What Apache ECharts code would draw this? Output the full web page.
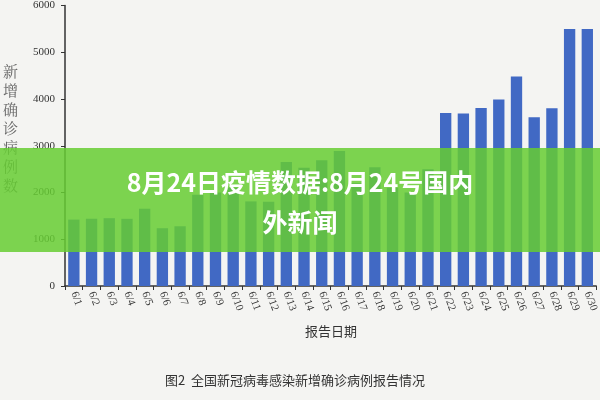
<!DOCTYPE html>
<html><head><meta charset="utf-8">
<script src="https://cdn.jsdelivr.net/npm/echarts@6/dist/echarts.min.js"></script>
<style>body{margin:0;background:#f4f4f2}#c{width:600px;height:400px}</style></head>
<body><div id="c"></div>
<script>
const categories=["6/1","6/2","6/3","6/4","6/5","6/6","6/7","6/8","6/9","6/10","6/11","6/12","6/13","6/14","6/15","6/16","6/17","6/18","6/19","6/20","6/21","6/22","6/23","6/24","6/25","6/26","6/27","6/28","6/29","6/30"];
const values=[1420,1437,1451,1437,1653,1236,1278,1950,2000,2100,1810,1800,2650,2530,2690,2890,2200,2540,2100,2000,2500,3700,3690,3810,3990,4480,3610,3800,5500,5500];
const yTicks=[0,1000,2000,3000,4000,5000,6000];
const ch=echarts.init(document.getElementById('c'));
ch.setOption({
 backgroundColor:'#f4f4f2',
 grid:{left:65,right:-8,top:-4,bottom:114},
 xAxis:{type:'category',data:categories,axisLine:{lineStyle:{color:'#333',width:1.5}},axisTick:{show:true,length:4,lineStyle:{color:'#333'}},
  axisLabel:{rotate:-70,color:'#333',fontFamily:'Liberation Serif',fontSize:11,interval:0,margin:6}},
 yAxis:{type:'value',min:0,max:6000,interval:1000,splitLine:{show:false},axisLine:{show:true,lineStyle:{color:'#333',width:1.5}},axisTick:{show:true,length:4},
  axisLabel:{color:'#333',fontFamily:'Liberation Serif',fontSize:11,margin:10,formatter:v=>String(v)}},
 series:[{type:'bar',data:values,barCategoryGap:'36%',itemStyle:{color:'#4169c4'}}],
 graphic:[
  {type:'text',left:3,top:62,style:{text:'新\n增\n确\n诊\n病\n例\n数',fill:'#666',font:'15px "Noto Serif CJK SC","Noto Sans CJK SC"',lineHeight:19}},
  {type:'text',left:305,top:325,style:{text:'报告日期',fill:'#333',font:'13px "Noto Sans CJK SC"'}},
  {type:'text',left:165,top:374,style:{text:'图2  全国新冠病毒感染新增确诊病例报告情况',fill:'#333',font:'13px "Noto Sans CJK SC"'}},
  {type:'rect',shape:{x:0,y:148,width:600,height:104},style:{fill:'rgba(102,204,51,0.85)'},z:100},
  {type:'text',x:300,y:182,style:{text:'8月24日疫情数据:8月24号国内',fill:'#fff',font:'bold 25px "Noto Sans CJK SC"',align:'center',verticalAlign:'middle'},z:101},
  {type:'text',x:300,y:222,style:{text:'外新闻',fill:'#fff',font:'bold 25px "Noto Sans CJK SC"',align:'center',verticalAlign:'middle'},z:101}
 ]
});
</script></body></html>
